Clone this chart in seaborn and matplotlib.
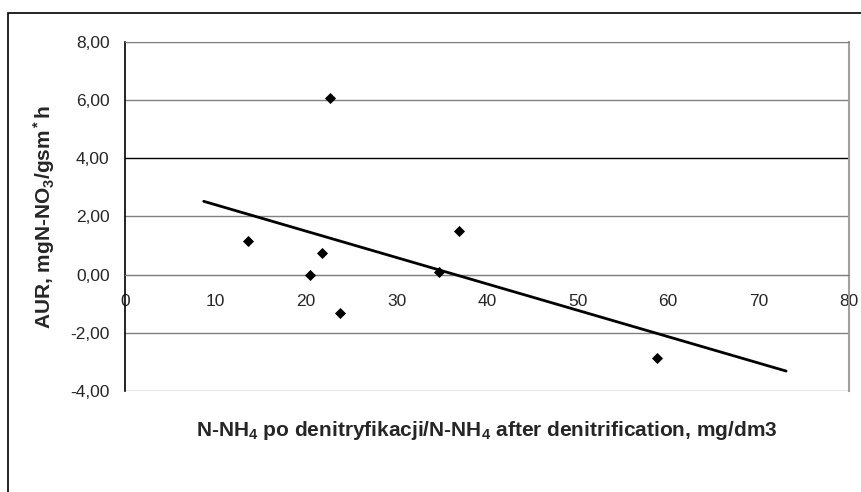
import numpy as np
import pandas as pd
import seaborn as sns
import matplotlib.pyplot as plt
from matplotlib.patches import Rectangle
from matplotlib.ticker import FuncFormatter

# values
nh4_after = [13.6, 22.65, 20.44, 21.8, 23.76, 34.7, 36.9, 58.75]
aur = [1.16, 6.08, 0.0, 0.74, -1.33, 0.09, 1.51, -2.86]
# Excel-style trendline forecast (backward / forward, in x units)
trend_backward = 4.9
trend_forward = 14.3

x_ticks = [0, 10, 20, 30, 40, 50, 60, 70, 80]
y_ticks = [-4, -2, 0, 2, 4, 6, 8]

sns.set_style('white')
plt.rcParams['font.family'] = ['Liberation Sans', 'DejaVu Sans']
plt.rcParams['mathtext.fontset'] = 'custom'
plt.rcParams['mathtext.rm'] = 'Liberation Sans:bold'
plt.rcParams['mathtext.it'] = 'Liberation Sans:bold'
plt.rcParams['mathtext.bf'] = 'Liberation Sans:bold'
plt.rcParams['mathtext.default'] = 'rm'

df = pd.DataFrame({'x': nh4_after, 'y': aur})

fig = plt.figure(figsize=(8.61, 4.92), dpi=100)
ax = fig.add_axes([125 / 861, 1 - 391 / 492, 724 / 861, 349 / 492])

# outer chart frame
fig.patches.append(Rectangle((8 / 861, -0.1), 1.2, 1 - 13 / 492 + 0.1,
                             transform=fig.transFigure, fill=False,
                             edgecolor='black', linewidth=1.2, zorder=0))

ax.set_xlim(0, 80)
ax.set_ylim(-4, 8)

# horizontal gridlines
for yv in y_ticks:
    col = 'black' if yv == 4 else '#808080'
    ax.axhline(yv, color=col, linewidth=1, zorder=1)

# linear trend line
slope, intercept = np.polyfit(df['x'], df['y'], 1)
xs = np.array([df['x'].min() - trend_backward, df['x'].max() + trend_forward])
ax.plot(xs, slope * xs + intercept, color='black', linewidth=2, zorder=3)

sns.scatterplot(data=df, x='x', y='y', marker='D', color='black', s=32,
                edgecolor='black', linewidth=0, ax=ax, zorder=4)

ax.spines['left'].set_color('black')
ax.spines['left'].set_linewidth(1.2)
ax.spines['bottom'].set_position(('data', 0))
ax.spines['bottom'].set_color('#808080')
ax.spines['top'].set_color('#808080')
ax.spines['right'].set_color('#a0a0a0')
ax.spines['right'].set_linewidth(1.5)

ax.set_xticks(x_ticks)
ax.set_yticks(y_ticks)
ax.yaxis.set_major_formatter(FuncFormatter(lambda v, p: f'{v:.2f}'.replace('.', ',')))
ax.tick_params(axis='y', direction='out', length=5, width=1, color='black',
               labelsize=12.5, pad=6)
ax.tick_params(axis='x', direction='inout', length=6, width=1, color='black',
               labelsize=12.5, pad=11)

ax.set_xlabel('N-NH$_4$ po denitryfikacji/N-NH$_4$ after denitrification, mg/dm3',
              fontsize=15, fontweight='bold')
ax.xaxis.set_label_coords(0.5, -0.112)
ax.xaxis.label.set_va('center')
ax.set_ylabel('AUR, mgN-NO$_3$/gsm$^*$h', fontsize=15, fontweight='bold')
ax.yaxis.set_label_coords(-0.094, 0.5)

fig.savefig('out.png', dpi=100)
